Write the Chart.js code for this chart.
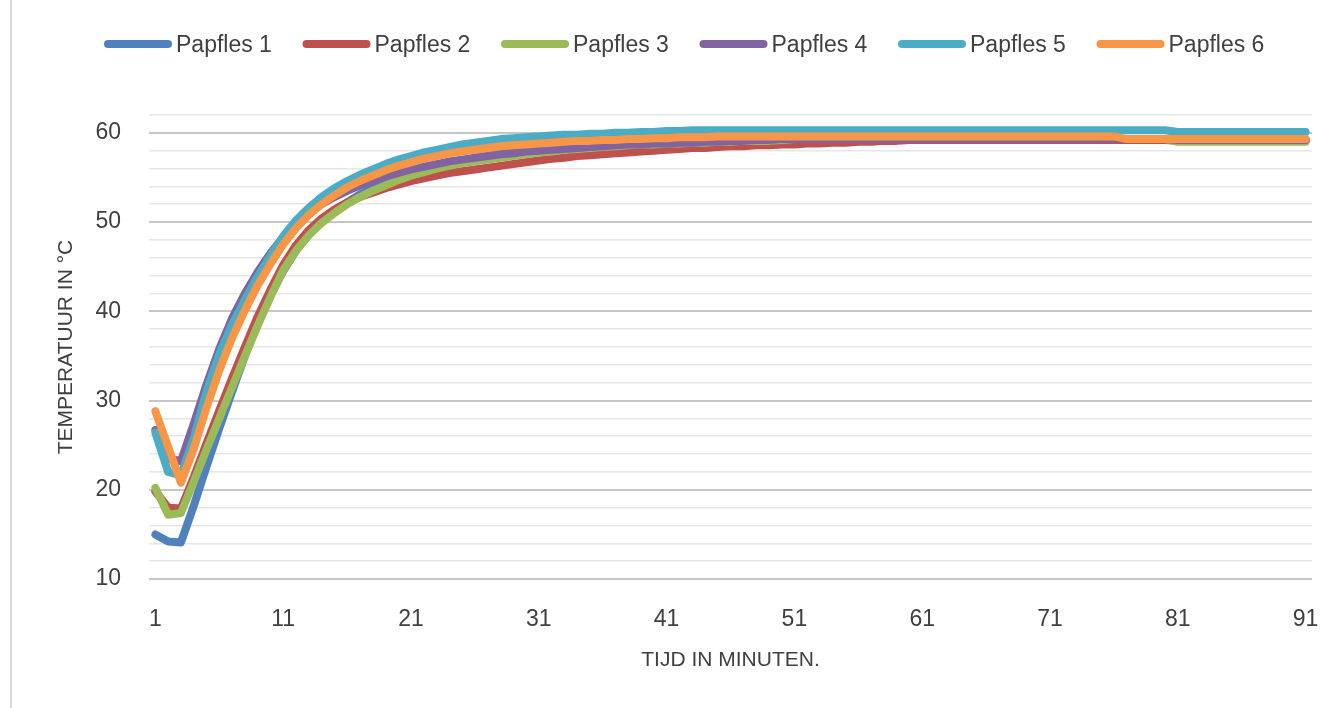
<!DOCTYPE html>
<html><head><meta charset="utf-8">
<script src="https://cdn.jsdelivr.net/npm/chart.js@4/dist/chart.umd.min.js"></script>
<style>html,body{margin:0;padding:0;background:#fff}#wrap{width:1344px;height:708px;position:relative}</style>
</head><body><div id="wrap"><canvas id="c" width="1344" height="708"></canvas></div>
<script>
const minutes = ['1','2','3','4','5','6','7','8','9','10','11','12','13','14','15','16','17','18','19','20','21','22','23','24','25','26','27','28','29','30','31','32','33','34','35','36','37','38','39','40','41','42','43','44','45','46','47','48','49','50','51','52','53','54','55','56','57','58','59','60','61','62','63','64','65','66','67','68','69','70','71','72','73','74','75','76','77','78','79','80','81','82','83','84','85','86','87','88','89','90','91'];
const seriesNames = ['Papfles 1','Papfles 2','Papfles 3','Papfles 4','Papfles 5','Papfles 6'];
const papfles1 = [15.0,14.2,14.1,18.2,22.6,26.9,31.0,35.0,38.6,41.8,44.5,46.8,48.6,50.0,51.2,52.2,53.1,53.8,54.4,55.0,55.5,55.9,56.3,56.6,56.9,57.2,57.4,57.6,57.8,58.0,58.1,58.3,58.4,58.5,58.6,58.7,58.8,58.9,58.9,59.0,59.0,59.1,59.1,59.2,59.2,59.3,59.3,59.3,59.3,59.3,59.3,59.3,59.3,59.3,59.3,59.3,59.3,59.3,59.3,59.3,59.3,59.3,59.3,59.3,59.3,59.3,59.3,59.3,59.3,59.3,59.3,59.3,59.3,59.3,59.3,59.3,59.3,59.3,59.3,59.3,59.2,59.2,59.2,59.2,59.2,59.2,59.2,59.2,59.2,59.2,59.2];
const papfles2 = [19.8,18.0,17.9,21.4,25.2,28.9,32.5,36.0,39.4,42.4,45.2,47.4,49.1,50.4,51.4,52.2,52.8,53.3,53.8,54.2,54.6,54.9,55.2,55.5,55.7,55.9,56.1,56.3,56.5,56.7,56.9,57.1,57.2,57.4,57.5,57.6,57.7,57.8,57.9,58.0,58.1,58.2,58.3,58.3,58.4,58.5,58.5,58.6,58.6,58.7,58.7,58.8,58.8,58.9,58.9,59.0,59.0,59.1,59.1,59.2,59.2,59.2,59.2,59.2,59.2,59.2,59.2,59.2,59.2,59.2,59.2,59.2,59.2,59.2,59.2,59.2,59.2,59.2,59.2,59.2,59.1,59.1,59.1,59.1,59.1,59.1,59.1,59.1,59.1,59.1,59.1];
const papfles3 = [20.2,17.2,17.4,20.9,24.5,28.0,31.5,35.0,38.4,41.6,44.6,46.8,48.5,49.9,51.0,52.0,52.8,53.5,54.1,54.7,55.2,55.6,56.0,56.3,56.6,56.8,57.0,57.2,57.4,57.6,57.8,57.9,58.1,58.2,58.3,58.4,58.5,58.6,58.7,58.7,58.8,58.8,58.9,58.9,59.0,59.0,59.1,59.1,59.1,59.2,59.3,59.3,59.3,59.3,59.3,59.3,59.3,59.3,59.3,59.3,59.3,59.3,59.3,59.3,59.3,59.3,59.3,59.3,59.3,59.3,59.3,59.3,59.3,59.3,59.3,59.3,59.3,59.3,59.3,59.3,59.0,59.0,59.0,59.0,59.0,59.0,59.0,59.0,59.0,59.0,59.0];
const papfles4 = [26.7,23.5,23.2,27.4,31.8,35.8,39.2,42.0,44.4,46.5,48.3,49.8,51.0,52.0,52.8,53.5,54.1,54.6,55.1,55.5,55.9,56.2,56.5,56.8,57.0,57.2,57.4,57.6,57.7,57.9,58.0,58.1,58.2,58.3,58.4,58.5,58.6,58.7,58.7,58.8,58.8,58.9,58.9,59.0,59.0,59.1,59.1,59.2,59.2,59.3,59.3,59.3,59.3,59.3,59.3,59.3,59.3,59.3,59.3,59.3,59.3,59.3,59.3,59.3,59.3,59.3,59.3,59.3,59.3,59.3,59.3,59.3,59.3,59.3,59.3,59.3,59.3,59.3,59.3,59.3,59.2,59.2,59.2,59.2,59.2,59.2,59.2,59.2,59.2,59.2,59.2];
const papfles5 = [26.4,22.0,21.6,25.8,31.0,35.2,38.5,41.3,43.9,46.2,48.4,50.2,51.6,52.8,53.8,54.6,55.3,55.9,56.5,57.0,57.4,57.8,58.1,58.4,58.7,58.9,59.1,59.3,59.4,59.5,59.6,59.7,59.8,59.8,59.9,59.9,60.0,60.0,60.1,60.1,60.2,60.2,60.3,60.3,60.3,60.3,60.3,60.3,60.3,60.3,60.3,60.3,60.3,60.3,60.3,60.3,60.3,60.3,60.3,60.3,60.3,60.3,60.3,60.3,60.3,60.3,60.3,60.3,60.3,60.3,60.3,60.3,60.3,60.3,60.3,60.3,60.3,60.3,60.3,60.3,60.1,60.1,60.1,60.1,60.1,60.1,60.1,60.1,60.1,60.1,60.1];
const papfles6 = [28.8,24.8,20.8,24.6,29.2,33.4,37.0,40.1,42.9,45.3,47.5,49.3,50.8,52.0,53.0,53.9,54.6,55.2,55.8,56.3,56.7,57.1,57.4,57.7,57.9,58.1,58.3,58.5,58.6,58.7,58.8,58.9,59.0,59.1,59.1,59.2,59.2,59.3,59.3,59.4,59.4,59.5,59.5,59.5,59.6,59.6,59.6,59.6,59.6,59.6,59.6,59.6,59.6,59.6,59.6,59.6,59.6,59.6,59.6,59.6,59.6,59.6,59.6,59.6,59.6,59.6,59.6,59.6,59.6,59.6,59.6,59.6,59.6,59.6,59.6,59.6,59.3,59.3,59.3,59.3,59.3,59.3,59.3,59.3,59.3,59.3,59.3,59.3,59.3,59.3,59.3];
const yTickLabels = [10,20,30,40,50,60];
const seriesColors = ['#4F81BD','#C0504D','#9BBB59','#8064A2','#4BACC6','#F79646'];
const allSeries = [papfles1,papfles2,papfles3,papfles4,papfles5,papfles6];

const FONT = "'Liberation Sans', Arial, sans-serif";
const TXT = '#404040';

const datasets = allSeries.map((d,i)=>({
  label: seriesNames[i], data: d,
  borderColor: seriesColors[i], backgroundColor: seriesColors[i],
  borderWidth: 8, pointRadius: 0, pointHoverRadius: 0, tension: 0,
  borderCapStyle: 'round', borderJoinStyle: 'round',
  order: allSeries.length - 1 - i
}));

const frame = {
  id: 'frame',
  beforeDraw(chart){
    const c = chart.ctx; c.save();
    c.fillStyle = '#fff'; c.fillRect(0,0,chart.width,chart.height);
    c.strokeStyle = '#d9d9d9'; c.lineWidth = 2;
    c.beginPath(); c.moveTo(11,0); c.lineTo(11,chart.height); c.stroke();
    c.restore();
  },
  afterDraw(chart){
    const c = chart.ctx; c.save();
    chart.data.datasets.forEach((ds,i)=>{
      const x0 = 104 + i*198.5, y = 44;
      c.strokeStyle = ds.borderColor; c.lineWidth = 8; c.lineCap = 'round';
      c.beginPath(); c.moveTo(x0+4,y); c.lineTo(x0+64,y); c.stroke();
      c.fillStyle = TXT; c.font = "23px " + FONT; c.textBaseline = 'middle'; c.textAlign='left';
      c.fillText(ds.label, x0+72, y+2);
    });
    c.restore();
  }
};

new Chart(document.getElementById('c'), {
  type: 'line',
  data: { labels: minutes, datasets },
  plugins: [frame],
  options: {
    responsive: false, animation: false, devicePixelRatio: 1,
    layout: { padding: { top: 115, right: 32, left: 0, bottom: 0 } },
    plugins: { legend: { display: false }, tooltip: { enabled: false } },
    scales: {
      x: {
        type: 'category', offset: true,
        grid: { display: false, drawTicks: false },
        border: { display: false },
        ticks: { autoSkip: false, maxRotation: 0, minRotation: 0, padding: 27,
          color: TXT, font: { family: FONT, size: 23 },
          callback: (v, i) => (i % 10 === 0 ? minutes[i] : '') },
        title: { display: true, text: 'TIJD IN MINUTEN.', color: TXT,
          font: { family: FONT, size: 21 }, padding: { top: 0, bottom: 35 } },
        afterFit(s){ s.height = 129; s.paddingLeft = 0; s.paddingRight = 0; }
      },
      y: {
        min: 10, max: 62,
        grid: { drawTicks: false,
          color: ctx => (ctx.tick && ctx.tick.value % 10 === 0 ? '#c6c6c6' : '#e6e6e6'),
          lineWidth: ctx => (ctx.tick && ctx.tick.value % 10 === 0 ? 2 : 1.5) },
        border: { display: false },
        ticks: { stepSize: 2, maxTicksLimit: 100, autoSkip: false, padding: 28,
          color: TXT, font: { family: FONT, size: 23 },
          callback: v => (yTickLabels.includes(v) ? String(v) : '') },
        title: { display: true, text: 'TEMPERATUUR IN °C', color: TXT,
          font: { family: FONT, size: 21 }, padding: { top: 54, bottom: 0 } },
        afterFit(s){ s.width = 149; s.paddingTop = 0; s.paddingBottom = 0; }
      }
    }
  }
});
</script></body></html>
